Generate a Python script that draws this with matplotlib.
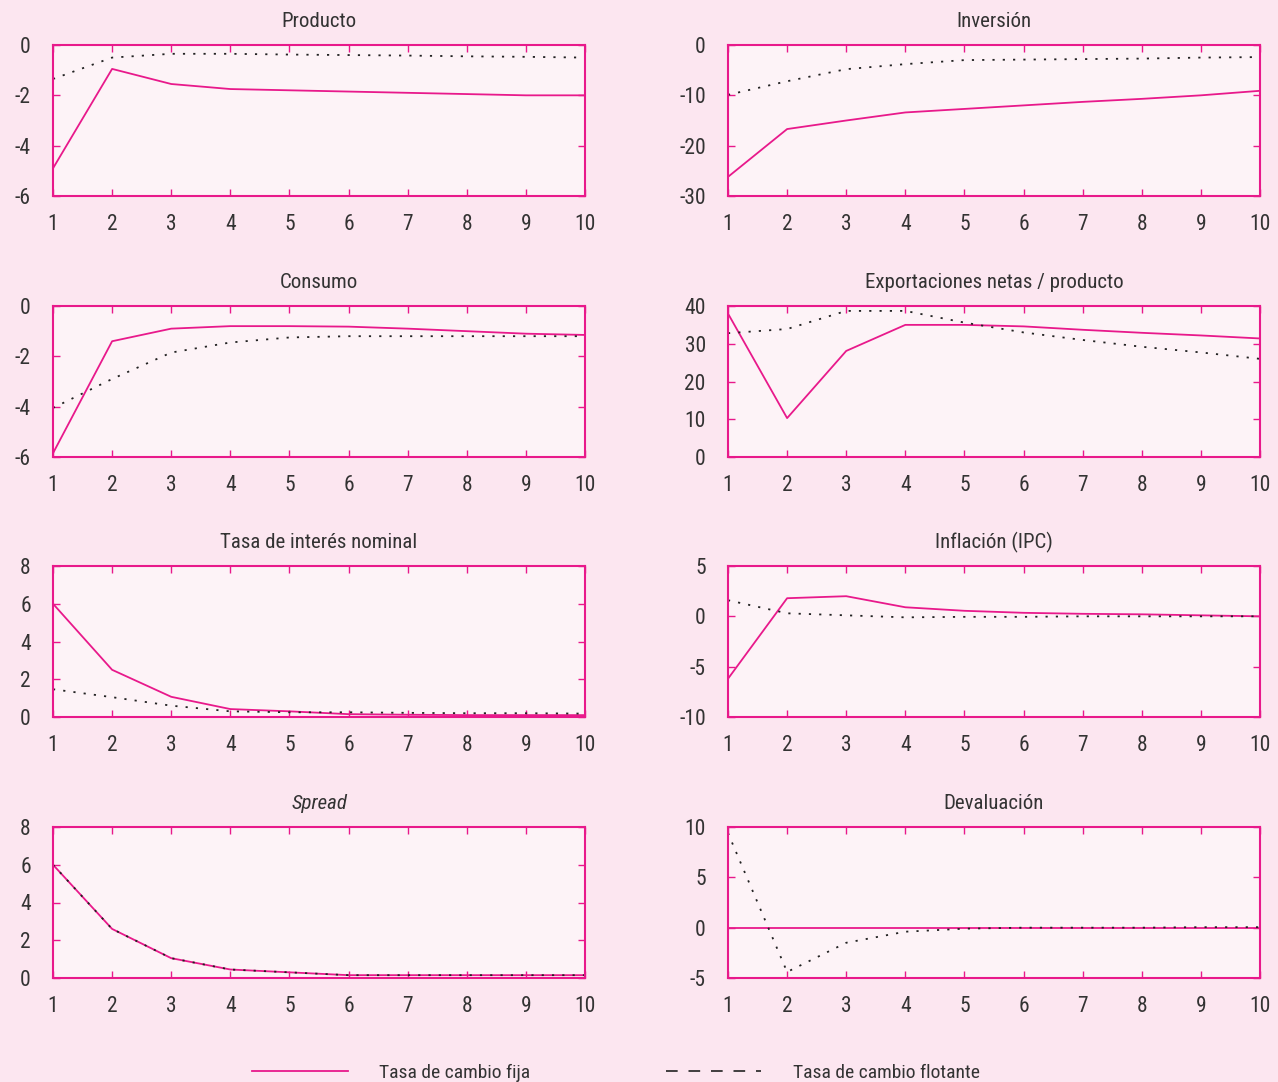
import matplotlib
matplotlib.use("Agg")
import matplotlib.pyplot as plt
from matplotlib.lines import Line2D

plt.rcParams['font.family'] = ['Roboto Condensed', 'Liberation Sans Narrow', 'Arial Narrow',
                               'Liberation Sans', 'DejaVu Sans']
plt.rcParams['axes.unicode_minus'] = False

# DATA
periods = [1, 2, 3, 4, 5, 6, 7, 8, 9, 10]

producto_fija = [-4.9, -0.95, -1.55, -1.75, -1.8, -1.85, -1.9, -1.95, -2.0, -2.0]
producto_flot = [-1.35, -0.5, -0.35, -0.35, -0.38, -0.4, -0.42, -0.45, -0.47, -0.5]

inversion_fija = [-26.2, -16.7, -15.0, -13.4, -12.7, -12.0, -11.3, -10.7, -10.0, -9.1]
inversion_flot = [-9.9, -7.2, -4.8, -3.8, -3.0, -2.9, -2.8, -2.7, -2.5, -2.4]

consumo_fija = [-5.85, -1.4, -0.9, -0.8, -0.8, -0.82, -0.9, -1.0, -1.1, -1.15]
consumo_flot = [-4.05, -2.9, -1.85, -1.45, -1.25, -1.2, -1.2, -1.2, -1.2, -1.2]

export_fija = [38.0, 10.3, 28.1, 35.0, 35.0, 34.6, 33.7, 32.9, 32.2, 31.4]
export_flot = [32.8, 33.9, 38.7, 38.7, 35.6, 33.0, 31.0, 29.2, 27.7, 26.0]

interes_fija = [6.0, 2.5, 1.07, 0.42, 0.3, 0.15, 0.12, 0.1, 0.1, 0.1]
interes_flot = [1.47, 1.05, 0.6, 0.3, 0.25, 0.25, 0.22, 0.2, 0.2, 0.18]

inflacion_fija = [-6.2, 1.8, 2.0, 0.9, 0.55, 0.35, 0.25, 0.2, 0.1, 0.0]
inflacion_flot = [1.6, 0.3, 0.1, -0.1, -0.05, -0.05, 0.0, 0.0, 0.0, 0.0]

spread_fija = [6.0, 2.6, 1.05, 0.45, 0.3, 0.15, 0.15, 0.15, 0.15, 0.15]
spread_flot = [6.0, 2.6, 1.05, 0.45, 0.3, 0.15, 0.15, 0.15, 0.15, 0.15]

devalua_fija = [0, 0, 0, 0, 0, 0, 0, 0, 0, 0]
devalua_flot = [9.4, -4.4, -1.5, -0.4, -0.1, 0.0, 0.0, 0.0, 0.05, 0.05]

titles = ["Producto", "Inversión", "Consumo", "Exportaciones netas / producto",
          "Tasa de interés nominal", "Inflación (IPC)", "Spread", "Devaluación"]
series = [(producto_fija, producto_flot), (inversion_fija, inversion_flot),
          (consumo_fija, consumo_flot), (export_fija, export_flot),
          (interes_fija, interes_flot), (inflacion_fija, inflacion_flot),
          (spread_fija, spread_flot), (devalua_fija, devalua_flot)]
ylims = [(-6, 0), (-30, 0), (-6, 0), (0, 40), (0, 8), (-10, 5), (0, 8), (-5, 10)]
yticks = [[-6, -4, -2, 0], [-30, -20, -10, 0], [-6, -4, -2, 0], [0, 10, 20, 30, 40],
          [0, 2, 4, 6, 8], [-10, -5, 0, 5], [0, 2, 4, 6, 8], [-5, 0, 5, 10]]

MAGENTA = "#e8198b"
BG = "#fce6f0"
AXBG = "#fdf3f7"
TXT = "#333333"

fig = plt.figure(figsize=(12.78, 10.82), dpi=100, facecolor=BG)

lefts = [53 / 1278, 728 / 1278]
bottoms = [1 - 196 / 1082, 1 - 457 / 1082, 1 - 717 / 1082, 1 - 978 / 1082]
w = 532 / 1278
h = 151 / 1082

for i in range(8):
    row, col = i // 2, i % 2
    ax = fig.add_axes([lefts[col], bottoms[row], w, h], facecolor=AXBG)
    fija, flot = series[i]
    ax.plot(periods, fija, color=MAGENTA, lw=1.3)
    ax.plot(periods, flot, color="#222222", lw=1.3, linestyle=(0, (1.2, 4.5)))
    ax.set_xlim(1, 10)
    ax.set_ylim(*ylims[i])
    ax.set_xticks(periods)
    ax.set_yticks(yticks[i])
    ax.tick_params(direction="in", length=5, width=1, color=MAGENTA,
                   top=True, right=True, labelsize=15.5, labelcolor=TXT)
    ax.tick_params(axis="x", pad=13)
    ax.tick_params(axis="y", pad=16)
    for s in ax.spines.values():
        s.set_color(MAGENTA)
        s.set_linewidth(1.5)
    style = "italic" if titles[i] == "Spread" else "normal"
    ax.set_title(titles[i], fontsize=15, color=TXT, pad=13, style=style)

handles = [Line2D([], [], color=MAGENTA, lw=1.3),
           Line2D([], [], color="#222222", lw=1.2, linestyle=(0, (7, 6.5)))]
fig.legend(handles, ["Tasa de cambio fija", "Tasa de cambio flotante"],
           loc="lower center", bbox_to_anchor=(0.482, -0.016), ncol=2, frameon=False,
           fontsize=14, handlelength=4.9, handletextpad=1.6, columnspacing=7,
           labelcolor=TXT)

fig.savefig("out.png", dpi=100, facecolor=BG)
